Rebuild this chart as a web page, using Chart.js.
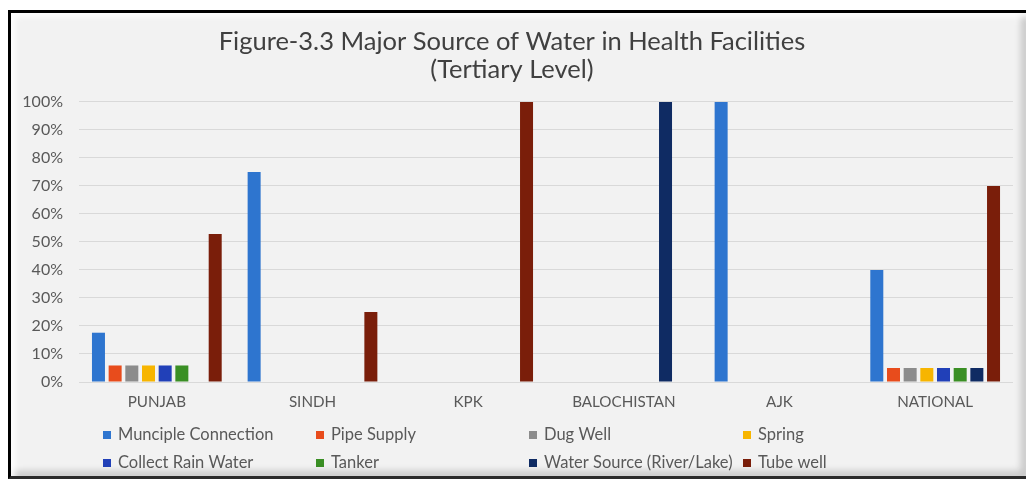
<!DOCTYPE html>
<html>
<head>
<meta charset="utf-8">
<script src="https://cdn.jsdelivr.net/npm/chart.js@4"></script>
<style>
  html, body { margin: 0; padding: 0; background: #fff; }
  #frame {
    position: absolute; left: 8px; top: 10px; width: 1018px; height: 469px;
    border-top: 3px solid #000; border-left: 3px solid #000; border-bottom: 3px solid #2a2a2a;
    box-sizing: border-box; background: #f2f2f2;
  }
  #wrap {
    position: absolute; left: 0; top: 0; right: 0; bottom: 0;
    box-shadow: inset 4px 4px 6px rgba(255,255,255,0.9), inset -5px -5px 7px rgba(0,0,0,0.18);
  }
  canvas { position: absolute; left: 0; top: 0; }
</style>
</head>
<body>
<div id="frame"><canvas id="c" width="1015" height="463"></canvas><div id="wrap"></div></div>
<script>
const categories = ['PUNJAB', 'SINDH', 'KPK', 'BALOCHISTAN', 'AJK', 'NATIONAL'];
const municipleConnection = [17.6, 75, 0, 0, 100, 40];
const pipeSupply = [5.9, 0, 0, 0, 0, 5];
const dugWell = [5.9, 0, 0, 0, 0, 5];
const spring = [5.9, 0, 0, 0, 0, 5];
const collectRainWater = [5.9, 0, 0, 0, 0, 5];
const tanker = [5.9, 0, 0, 0, 0, 5];
const waterSource = [0, 0, 0, 100, 0, 5];
const tubeWell = [52.9, 25, 100, 0, 0, 70];
const seriesNames = ['Munciple Connection', 'Pipe Supply', 'Dug Well', 'Spring',
  'Collect Rain Water', 'Tanker', 'Water Source (River/Lake)', 'Tube well'];
const seriesColors = ['#2E75CF', '#E84C1C', '#8C8C8C', '#F7B500', '#2140B8', '#3A8F24', '#0F2B63', '#7A1E0A'];
const titleLines = ['Figure-3.3 Major Source of Water in Health Facilities', '(Tertiary Level)'];

const seriesValues = [municipleConnection, pipeSupply, dugWell, spring, collectRainWater, tanker, waterSource, tubeWell];
const FONT = 'Lato, "Liberation Sans", sans-serif';

const colLegend = {
  id: 'colLegend',
  afterDraw(chart) {
    const ctx = chart.ctx;
    const cols = [92, 305, 518, 732];
    const rows = [422, 450];
    ctx.save();
    ctx.font = '16.5px ' + FONT;
    ctx.textBaseline = 'middle';
    ctx.textAlign = 'left';
    chart.data.datasets.forEach((ds, i) => {
      const x = cols[i % 4], y = rows[Math.floor(i / 4)];
      ctx.fillStyle = ds.backgroundColor;
      ctx.fillRect(x, y - 4, 8, 8);
      ctx.fillStyle = '#595959';
      ctx.fillText(ds.label, x + 15, y);
    });
    ctx.restore();
  }
};

new Chart(document.getElementById('c'), {
  type: 'bar',
  data: {
    labels: categories,
    datasets: seriesNames.map((n, i) => ({
      label: n,
      data: seriesValues[i],
      backgroundColor: seriesColors[i],
      borderWidth: 0,
      categoryPercentage: 0.857,
      barPercentage: 0.78
    }))
  },
  options: {
    responsive: false,
    animation: false,
    devicePixelRatio: 1,
    layout: { padding: { left: 0, right: 13, top: 0, bottom: 64 } },
    plugins: {
      legend: { display: false },
      tooltip: { enabled: false },
      title: {
        display: true,
        text: titleLines,
        color: '#404040',
        font: { family: FONT, size: 25.5, weight: 'normal', lineHeight: 1.098 },
        padding: { top: 15, bottom: 18 }
      }
    },
    scales: {
      x: {
        grid: { display: false, drawTicks: false },
        border: { display: false },
        ticks: { color: '#595959', font: { family: FONT, size: 15.2 }, padding: 11 },
        afterFit(s) { s.height = 30; }
      },
      y: {
        min: 0, max: 100,
        grid: { color: '#d9d9d9', lineWidth: 1, drawTicks: false },
        border: { display: false },
        ticks: { stepSize: 10, color: '#595959', font: { family: FONT, size: 16 }, padding: 16,
          callback: v => v + '%' },
        afterFit(s) { s.width = 68; }
      }
    }
  },
  plugins: [colLegend]
});
</script>
</body>
</html>
